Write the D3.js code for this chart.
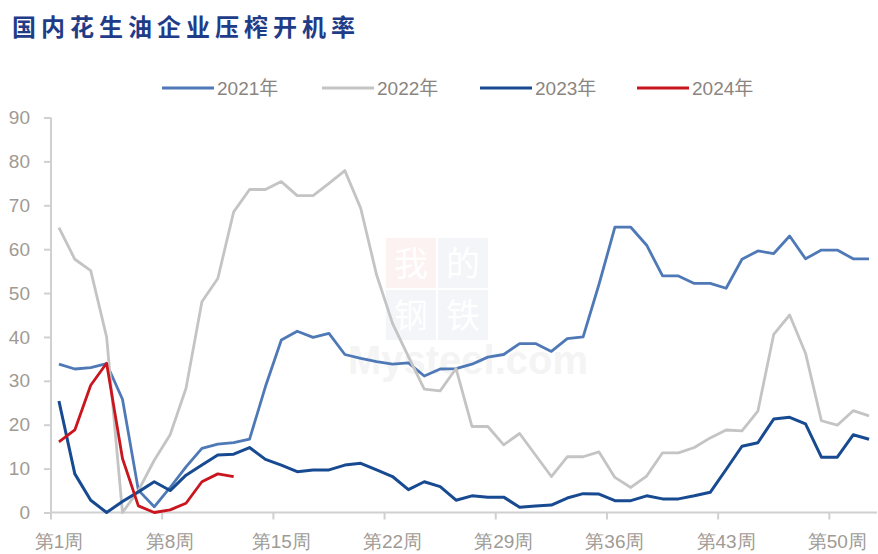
<!DOCTYPE html>
<html>
<head>
<meta charset="utf-8">
<script src="https://cdn.jsdelivr.net/npm/d3@7"></script>
<style>
  body { margin: 0; background: #fff; }
  svg { display: block; }
</style>
</head>
<body>
<div class="chart"></div>
<script>
// week numbers 1..52
var weeks = [1, 2, 3, 4, 5, 6, 7, 8, 9, 10, 11, 12, 13, 14, 15, 16, 17, 18, 19, 20,
  21, 22, 23, 24, 25, 26, 27, 28, 29, 30, 31, 32, 33, 34, 35, 36, 37, 38, 39, 40,
  41, 42, 43, 44, 45, 46, 47, 48, 49, 50, 51, 52];

var rate2021 = [33.8, 32.7, 33.0, 33.9, 25.8, 5.1, 1.3, 5.7, 10.4, 14.6,
  15.6, 15.9, 16.7, 28.7, 39.3, 41.3, 39.9, 40.8, 36.0, 35.1,
  34.4, 33.8, 34.1, 31.1, 32.7, 32.8, 33.8, 35.4, 36.0, 38.5,
  38.5, 36.7, 39.6, 40.0, 52.0, 65.0, 65.0, 60.9, 53.9, 53.9,
  52.2, 52.2, 51.1, 57.7, 59.6, 59.0, 63.0, 57.8, 59.8, 59.8,
  57.8, 57.8];

var rate2022 = [64.9, 57.7, 55.1, 40.0, 0.0, 5.0, 11.9, 17.7, 28.3, 48.0,
  53.3, 68.5, 73.6, 73.6, 75.4, 72.2, 72.2, 75.0, 77.9, 69.3,
  54.1, 43.1, 35.5, 28.1, 27.7, 32.8, 19.6, 19.6, 15.4, 18.0,
  13.1, 8.2, 12.7, 12.7, 13.8, 8.0, 5.7, 8.3, 13.6, 13.6,
  14.8, 17.0, 18.8, 18.6, 23.1, 40.6, 45.0, 36.3, 20.9, 19.9,
  23.2, 22.0];

var rate2023 = [25.4, 8.8, 2.8, 0.0, 2.5, 4.7, 7.0, 5.0, 8.5, 10.8,
  13.1, 13.3, 14.8, 12.1, 10.8, 9.3, 9.7, 9.7, 10.8, 11.2,
  9.7, 8.2, 5.2, 7.0, 5.9, 2.8, 3.8, 3.5, 3.5, 1.2,
  1.5, 1.7, 3.3, 4.3, 4.2, 2.7, 2.7, 3.8, 3.1, 3.1,
  3.8, 4.6, 9.8, 15.1, 15.9, 21.3, 21.7, 20.2, 12.6, 12.6,
  17.7, 16.7];

// 2024 only has the first 12 weeks
var rate2024 = [16.1, 18.8, 29.0, 34.0, 12.3, 1.5, 0.0, 0.6, 2.1, 7.0, 8.8, 8.2];

var seriesNames = ["2021年", "2022年", "2023年", "2024年"];
var yTicks = [0, 10, 20, 30, 40, 50, 60, 70, 80, 90];
var xTickWeeks = [1, 8, 15, 22, 29, 36, 43, 50];

var svgWidth = 878;
var svgHeight = 554;

var svg = d3.select(".chart")
  .append("svg")
  .attr("width", svgWidth)
  .attr("height", svgHeight)
  .style("font-family", "'Liberation Sans', Arial, 'Noto Sans CJK SC', sans-serif");

// plot area edges (not "top": that name is taken by window.top)
var plotLeft = 51, plotRight = 877, plotTop = 117.5, plotBottom = 512.5;

var xScale = d3.scaleBand()
  .domain(weeks)
  .range([plotLeft, plotRight]);

var yScale = d3.scaleLinear()
  .domain([0, 90])
  .range([plotBottom, plotTop]);

var xMid = w => xScale(w) + xScale.bandwidth() / 2;

// title
svg.append("text")
  .attr("x", 12)
  .attr("y", 36)
  .text("国内花生油企业压榨开机率")
  .style("font-family", "'Noto Sans CJK SC', sans-serif")
  .style("font-size", "24px")
  .style("font-weight", "bold")
  .style("letter-spacing", "5px")
  .attr("fill", "#1f3c88");

// watermark
var wm = svg.append("g").attr("opacity", 0.45);
wm.append("rect").attr("x", 386).attr("y", 238).attr("width", 50).attr("height", 50).attr("fill", "#fbe3e3");
wm.append("rect").attr("x", 438).attr("y", 238).attr("width", 50).attr("height", 50).attr("fill", "#e6eaf3");
wm.append("rect").attr("x", 386).attr("y", 290).attr("width", 50).attr("height", 50).attr("fill", "#e6eaf3");
wm.append("rect").attr("x", 438).attr("y", 290).attr("width", 50).attr("height", 50).attr("fill", "#e6eaf3");
[["我", 411, 276], ["的", 463, 276], ["钢", 411, 328], ["铁", 463, 328]].forEach(function(c) {
  wm.append("text")
    .attr("x", c[1]).attr("y", c[2])
    .attr("text-anchor", "middle")
    .style("font-family", "'Noto Sans CJK SC', sans-serif")
    .style("font-size", "34px")
    .attr("fill", "#ffffff")
    .text(c[0]);
});
wm.append("text")
  .attr("x", 468).attr("y", 374)
  .attr("text-anchor", "middle")
  .style("font-size", "40px")
  .style("font-weight", "bold")
  .attr("fill", "#e8e8e8")
  .text("Mysteel.com");

// y axis
var yAxis = d3.axisLeft(yScale)
  .tickValues(yTicks)
  .tickSize(7)
  .tickPadding(14);

var yAxisG = svg.append("g")
  .attr("transform", `translate(${plotLeft}, 0)`)
  .call(yAxis);
yAxisG.select(".domain").attr("stroke", "#d0d0d0").attr("stroke-width", 2)
  .attr("d", `M0,${plotTop}V${plotBottom}`);
yAxisG.selectAll(".tick line").attr("stroke", "#d0d0d0").attr("stroke-width", 2);
yAxisG.selectAll(".tick text")
  .style("font-size", "19px")
  .attr("fill", "#a09a94");

// x axis (labels centred on weeks, tick marks on band edges)
var xAxis = d3.axisBottom(xScale)
  .tickValues(xTickWeeks)
  .tickSize(0)
  .tickPadding(22)
  .tickFormat(w => "第" + w + "周");

var xAxisG = svg.append("g")
  .attr("transform", `translate(0, ${plotBottom})`)
  .call(xAxis);
xAxisG.select(".domain").remove();
xAxisG.selectAll(".tick text")
  .style("font-size", "19px")
  .attr("fill", "#a09a94");

xAxisG.append("line")
  .attr("x1", plotLeft).attr("x2", plotRight)
  .attr("y1", 0).attr("y2", 0)
  .attr("stroke", "#d0d0d0")
  .attr("stroke-width", 2);

xAxisG.selectAll(".edge")
  .data(xTickWeeks)
  .enter()
  .append("line")
  .attr("class", "edge")
  .attr("x1", w => xScale(w)).attr("x2", w => xScale(w))
  .attr("y1", 0).attr("y2", 7)
  .attr("stroke", "#d0d0d0")
  .attr("stroke-width", 2);

// lines
var series = [
  { name: seriesNames[0], values: rate2021, color: "#4f79b6", width: 2.8 },
  { name: seriesNames[1], values: rate2022, color: "#c4c4c4", width: 2.8 },
  { name: seriesNames[2], values: rate2023, color: "#174a90", width: 3 },
  { name: seriesNames[3], values: rate2024, color: "#c8151e", width: 2.8 }
];

var valueline = d3.line()
  .x((d, i) => xMid(weeks[i]))
  .y(d => yScale(d));

svg.append("g")
  .selectAll("path")
  .data(series)
  .enter()
  .append("path")
  .attr("d", s => valueline(s.values))
  .attr("fill", "none")
  .attr("stroke", s => s.color)
  .attr("stroke-width", s => s.width)
  .attr("stroke-linejoin", "round");

// legend
var legendX = [162, 322, 480, 637];
var legend = svg.append("g");
series.forEach(function(s, i) {
  legend.append("line")
    .attr("x1", legendX[i]).attr("x2", legendX[i] + 52)
    .attr("y1", 88).attr("y2", 88)
    .attr("stroke", s.color)
    .attr("stroke-width", 3);
  legend.append("text")
    .attr("x", legendX[i] + 55)
    .attr("y", 88)
    .attr("dy", "0.35em")
    .style("font-size", "19px")
    .attr("fill", "#8a8580")
    .text(s.name);
});
</script>
</body>
</html>
